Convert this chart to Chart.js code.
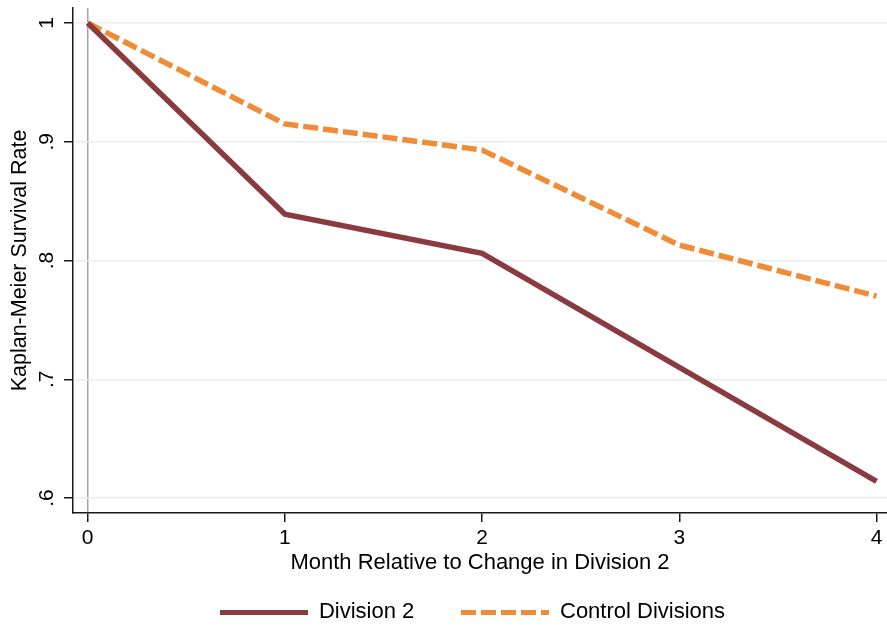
<!DOCTYPE html>
<html>
<head>
    <title>Kaplan-Meier Survival Rate</title>
    <script src="https://cdn.jsdelivr.net/npm/chart.js"></script>
    <style>
        body {
            margin: 0;
            padding: 0;
            background-color: #ffffff;
        }
        .container {
            position: relative;
            width: 887px;
            height: 625px;
        }
    </style>
</head>
<body>
    <div class="container">
        <canvas id="kmChart"></canvas>
    </div>

    <script>
        // data
        const months = [0, 1, 2, 3, 4];
        const division2 = [1.000, 0.839, 0.806, 0.710, 0.614];
        const controlDivisions = [1.000, 0.915, 0.893, 0.813, 0.770];
        const yTickValues = [0.6, 0.7, 0.8, 0.9, 1];
        const yTickLabels = ['.6', '.7', '.8', '.9', '1'];

        const fontName = '"Liberation Sans", Arial, Helvetica, sans-serif';
        const maroon = '#8a3b3f';
        const orange = '#f08c38';
        const dash = [15, 5];

        // little canvas used as the legend sample, so the dash shows
        function makeSwatch(color, lineDash) {
            const c = document.createElement('canvas');
            c.width = 88;
            c.height = 5;
            const g = c.getContext('2d');
            g.strokeStyle = color;
            g.lineWidth = 5;
            g.setLineDash(lineDash);
            g.beginPath();
            g.moveTo(0, 2.5);
            g.lineTo(88, 2.5);
            g.stroke();
            return c;
        }

        // y tick labels are drawn rotated, the way Stata does it
        const rotatedYLabels = {
            id: 'rotatedYLabels',
            afterDraw(chart) {
                const scale = chart.scales.y;
                const ctx = chart.ctx;
                ctx.save();
                ctx.fillStyle = '#000';
                ctx.font = '21px ' + fontName;
                ctx.textAlign = 'center';
                ctx.textBaseline = 'middle';
                yTickValues.forEach((v, i) => {
                    const y = scale.getPixelForValue(v);
                    ctx.save();
                    ctx.translate(47, y);
                    ctx.rotate(-Math.PI / 2);
                    ctx.fillText(yTickLabels[i], 0, 0);
                    ctx.restore();
                });
                ctx.restore();
            }
        };

        // nudge legend a little right and down
        const legendNudge = {
            id: 'legendNudge',
            afterLayout(chart) {
                const lg = chart.legend;
                lg.left += 29; lg.right += 29;
                lg.top += 8; lg.bottom += 8;
            }
        };

        const toPoints = ys => months.map((m, i) => ({ x: m, y: ys[i] }));

        const ctx = document.getElementById('kmChart').getContext('2d');
        new Chart(ctx, {
            type: 'line',
            data: {
                datasets: [{
                    label: 'Division 2',
                    data: toPoints(division2),
                    borderColor: maroon,
                    backgroundColor: maroon,
                    borderWidth: 5.5,
                    pointRadius: 0,
                    tension: 0,
                    fill: false
                }, {
                    label: 'Control Divisions',
                    data: toPoints(controlDivisions),
                    borderColor: orange,
                    backgroundColor: orange,
                    borderWidth: 5.5,
                    borderDash: dash,
                    pointRadius: 0,
                    tension: 0,
                    fill: false
                }]
            },
            options: {
                responsive: true,
                maintainAspectRatio: false,
                animation: false,
                layout: { padding: { top: 8, right: 0, left: 0, bottom: 0 } },
                plugins: {
                    legend: {
                        position: 'bottom',
                        labels: {
                            usePointStyle: true,
                            pointStyleWidth: 88,
                            padding: 10,
                            color: '#000',
                            font: { family: fontName, size: 22 },
                            generateLabels(chart) {
                                const items = Chart.defaults.plugins.legend.labels.generateLabels(chart);
                                items.forEach((item, i) => {
                                    const ds = chart.data.datasets[i];
                                    item.pointStyle = makeSwatch(ds.borderColor, ds.borderDash || []);
                                });
                                // extra gap after the first entry
                                items[0].text = items[0].text + '      ';
                                return items;
                            }
                        }
                    },
                    tooltip: { enabled: false }
                },
                scales: {
                    x: {
                        type: 'linear',
                        min: -0.0745,
                        max: 4.053,
                        afterBuildTicks: scale => {
                            scale.ticks = months.map(v => ({ value: v }));
                        },
                        afterFit: scale => { scale.height = 70; },
                        ticks: {
                            padding: 4,
                            color: '#000',
                            font: { family: fontName, size: 21 },
                            callback: v => String(v)
                        },
                        grid: {
                            color: c => (c.tick && c.tick.value === 0) ? '#a3a3a3' : 'rgba(0,0,0,0)',
                            lineWidth: 1.5,
                            tickColor: '#1a1a1a',
                            tickLength: 9,
                            drawTicks: true
                        },
                        border: { color: '#1a1a1a', width: 1.5 },
                        title: {
                            display: true,
                            text: 'Month Relative to Change in Division 2',
                            color: '#000',
                            font: { family: fontName, size: 22 },
                            padding: { top: 0, bottom: 7 }
                        }
                    },
                    y: {
                        min: 0.58737,
                        max: 1.01263,
                        afterBuildTicks: scale => {
                            scale.ticks = yTickValues.map(v => ({ value: v }));
                        },
                        afterFit: scale => { scale.width = 73; },
                        ticks: { display: false },
                        grid: {
                            color: '#e8eef2',
                            lineWidth: 1.5,
                            tickColor: '#1a1a1a',
                            tickLength: 9,
                            drawTicks: true
                        },
                        border: { color: '#1a1a1a', width: 1.5 },
                        title: {
                            display: true,
                            text: 'Kaplan-Meier Survival Rate',
                            color: '#000',
                            font: { family: fontName, size: 21.5 },
                            padding: { top: 7, bottom: 0 }
                        }
                    }
                }
            },
            plugins: [rotatedYLabels, legendNudge]
        });
    </script>
</body>
</html>
